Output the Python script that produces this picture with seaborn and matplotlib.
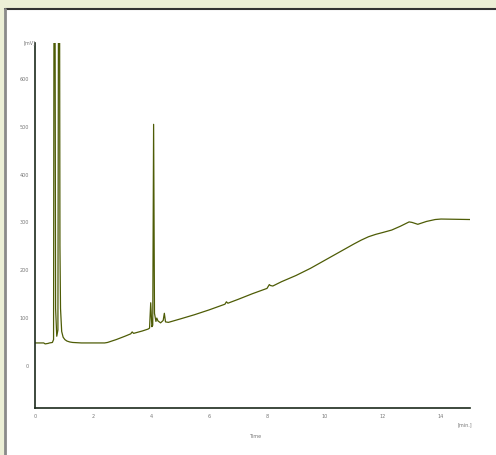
import matplotlib

matplotlib.use("Agg")
import matplotlib.pyplot as plt
import pandas as pd
import seaborn as sns
from matplotlib.patches import Rectangle

# chromatogram trace
time_min = [
    0.0, 0.3, 0.35, 0.45, 0.5, 0.6, 0.64, 0.67, 0.71, 0.75, 0.79, 0.83, 0.86,
    0.88, 0.92, 0.97, 1.03, 1.1, 1.2, 1.3, 1.6, 2.0, 2.4, 2.5, 2.8, 3.1, 3.3,
    3.35, 3.4, 3.7, 3.9, 3.95, 3.99, 4.03, 4.06, 4.09, 4.12, 4.17, 4.2, 4.24,
    4.33, 4.42, 4.46, 4.5, 4.6, 5.0, 5.5, 6.0, 6.55, 6.6, 6.65, 7.0, 7.5, 8.0,
    8.08, 8.12, 8.2, 8.5, 9.0, 9.5, 10.0, 10.5, 11.0, 11.25, 11.5, 11.75,
    12.0, 12.3, 12.6, 12.9, 13.0, 13.2, 13.5, 13.8, 14.0, 15.0,
]
signal_mv = [
    48, 48, 46, 47, 48, 49, 55, 1500, 120, 62, 75, 1500, 250,
    120, 72, 60, 55, 52, 50, 49, 48, 48, 48, 49, 55, 62, 67,
    71, 68, 73, 77, 79, 132, 82, 85, 505, 110, 93, 100, 94,
    90, 95, 110, 92, 91, 98, 107, 117, 129, 134, 131, 139, 151, 162,
    170, 168, 167, 176, 189, 204, 221, 238, 255, 263, 270, 275,
    279, 284, 292, 301, 300, 296, 302, 306, 307, 306,
]
x_ticks = [0, 2, 4, 6, 8, 10, 12, 14]
y_ticks = [0, 100, 200, 300, 400, 500, 600]

W, H = 496, 455
df = pd.DataFrame({"Time": time_min, "Signal": signal_mv})

sns.set_style("white")
fig = plt.figure(figsize=(W / 100, H / 100), dpi=100)
fig.patch.set_facecolor("#ecefd6")

# white panel with borders
panel = Rectangle((5 / W, 0), 1, 1 - 8 / H, transform=fig.transFigure,
                  facecolor="white", edgecolor="none", zorder=-2)
fig.add_artist(panel)
fig.add_artist(plt.Line2D([5 / W, 1], [1 - 8.5 / H, 1 - 8.5 / H],
                          transform=fig.transFigure, color="#333333", lw=1.5,
                          zorder=-1))
fig.add_artist(plt.Line2D([5 / W, 5 / W], [0, 1 - 8.5 / H],
                          transform=fig.transFigure, color="#8a8a8a", lw=2,
                          zorder=-1))

ax = fig.add_axes([35 / W, 1 - 408 / H, 435 / W, 365 / H])
ax.set_zorder(1)
ax.set_facecolor("none")
sns.lineplot(data=df, x="Time", y="Signal", ax=ax, color="#4e5c06",
             linewidth=0.9, estimator=None, sort=False)

ax.set_xlim(0, 15)
ax.set_ylim(-88, 675)
ax.set_xticks(x_ticks)
ax.set_yticks(y_ticks)
ax.set_xlabel("")
ax.set_ylabel("")
for side in ["top", "right"]:
    ax.spines[side].set_visible(False)
for side in ["left", "bottom"]:
    ax.spines[side].set_color("#1c2a1c")
    ax.spines[side].set_linewidth(1.2)
ax.tick_params(direction="out", length=2.5, width=0.8, color="#1c2a1c",
               labelsize=3.5, labelcolor="#777777", pad=2)

fig.text(30 / W, 1 - 43 / H, "[mV]", ha="center", va="center",
         fontsize=3.5, color="#777777")
fig.text(465 / W, 1 - 425 / H, "[min.]", ha="center", va="center",
         fontsize=3.5, color="#777777")
fig.text(255 / W, 1 - 437 / H, "Time", ha="center", va="center",
         fontsize=3.5, color="#777777")

fig.savefig("out.png", dpi=100, facecolor=fig.get_facecolor())
